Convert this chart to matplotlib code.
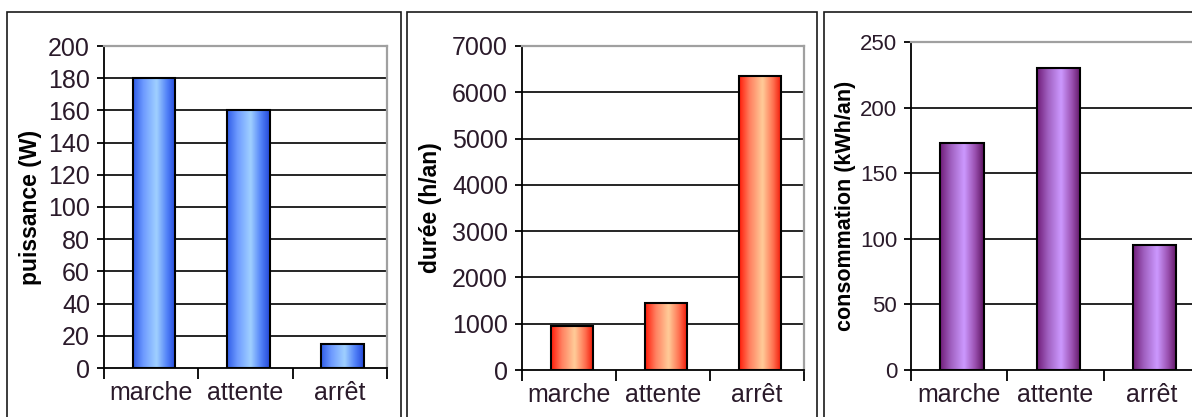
import matplotlib
matplotlib.use("Agg")
import matplotlib.pyplot as plt
import numpy as np
from matplotlib.colors import LinearSegmentedColormap
from matplotlib.patches import Rectangle

plt.rcParams['font.family'] = ['Liberation Sans', 'DejaVu Sans']

categories = ["marche", "attente", "arrêt"]
puissance = [180, 160, 15]          # W
duree = [960, 1440, 6360]           # h/an
consommation = [172.8, 230.4, 95.4]  # kWh/an

fig = plt.figure(figsize=(11.92, 4.17), dpi=100)
W, H = 1192, 417

# chart-area frames (pixel boxes: left, right, top)
for left, right in [(7, 401), (407, 817), (824, 1210)]:
    fig.add_artist(Rectangle((left / W, -0.1), (right - left) / W, (H - 12) / H + 0.1,
                             transform=fig.transFigure, fill=False,
                             edgecolor='#1a1a1a', lw=1.2))

panels = [
    # values, ylabel, ymax, step, axes box px (l, r, top, bottom), colours, label x px, tick size, label size
    (puissance, "puissance (W)", 200, 20, (104, 387, 46, 368),
     ['#2f5ce8', '#6f9cff', '#a0d0ff', '#5080f8', '#2448d8'], 31, 18, 16.5),
    (duree, "durée (h/an)", 7000, 1000, (522, 804, 46, 370),
     ['#ff1a08', '#ff8060', '#ffcc99', '#ff7050', '#f01000'], 430, 18, 16.5),
    (consommation, "consommation (kWh/an)", 250, 50, (911, 1200, 42, 370),
     ['#701c78', '#a060c0', '#cc99ff', '#9a50b0', '#5c1260'], 845, 16, 15.5),
]

for vals, ylabel, ymax, step, (l, r, t, b), cols, labx, tsize, lsize in panels:
    ax = fig.add_axes([l / W, (H - b) / H, (r - l) / W, (b - t) / H])
    x = np.arange(len(categories)) + 0.03
    bars = ax.bar(x, vals, width=0.45, facecolor='none', edgecolor='black',
                  lw=1.5, zorder=3)
    cmap = LinearSegmentedColormap.from_list("g", list(zip([0, 0.25, 0.55, 0.8, 1], cols)))
    grad = np.linspace(0, 1, 256).reshape(1, -1)
    for bar in bars:
        bx, bw, bh = bar.get_x(), bar.get_width(), bar.get_height()
        im = ax.imshow(grad, cmap=cmap, extent=(bx, bx + bw, 0, bh),
                       aspect='auto', zorder=2.5, interpolation='bicubic')
        im.set_clip_path(bar)

    yt = np.arange(0, ymax + step, step)
    ax.hlines(yt[1:-1], -0.5, 2.5, color='black', lw=1.2, zorder=1)
    ax.set_xlim(-0.5, 2.5)
    ax.set_ylim(0, ymax)
    ax.set_yticks(yt)
    ax.set_xticks(np.arange(len(categories)))
    ax.set_xticklabels(categories)
    ax.set_xticks([-0.5, 0.5, 1.5, 2.5], minor=True)
    ax.tick_params(axis='x', which='major', length=0, pad=9, labelsize=18)
    ax.tick_params(axis='x', which='minor', length=8, width=1.3, direction='out')
    ax.tick_params(axis='y', length=5, width=1.3, direction='out', pad=5,
                   labelsize=tsize, labelcolor='#2a1a2a')
    ax.tick_params(axis='x', labelcolor='#2a1a2a')

    for side in ['left', 'bottom']:
        ax.spines[side].set_color('black')
        ax.spines[side].set_linewidth(1.3)
    for side in ['top', 'right']:
        ax.spines[side].set_color('#a0a0a0')
        ax.spines[side].set_linewidth(1.6)

    ax.set_ylabel(ylabel, fontsize=lsize, fontweight='bold', va='center')
    ax.yaxis.set_label_coords((labx - l) / (r - l), 0.5)

fig.savefig("out.png", dpi=100)
